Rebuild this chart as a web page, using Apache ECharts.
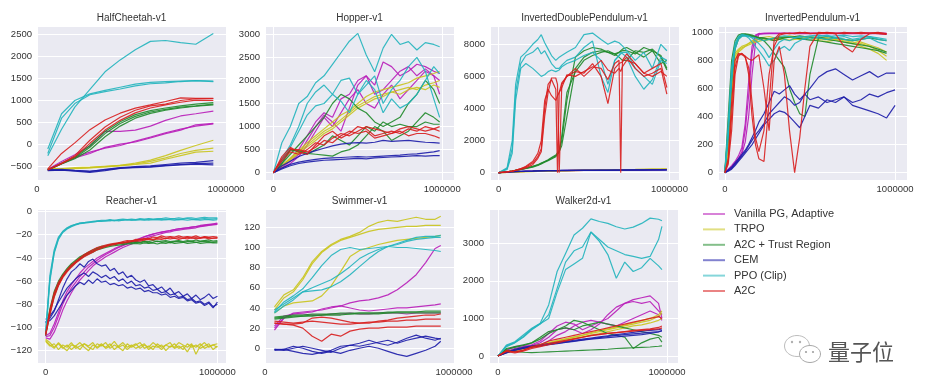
<!DOCTYPE html>
<html><head><meta charset="utf-8">
<script src="https://cdn.jsdelivr.net/npm/echarts@6/dist/echarts.min.js"></script>
<style>html,body{margin:0;padding:0;background:#fff}#c{width:925px;height:392px}</style>
</head><body><div id="c"></div>
<script>
const algoNames = ['Vanilla PG, Adaptive', 'TRPO', 'A2C + Trust Region', 'CEM', 'PPO (Clip)', 'A2C'];
const envNames = ['HalfCheetah-v1', 'Hopper-v1', 'InvertedDoublePendulum-v1', 'InvertedPendulum-v1', 'Reacher-v1', 'Swimmer-v1', 'Walker2d-v1'];
const xTickLabels = [0, 1000000];

// ---------- HalfCheetah ----------
const hcX = [57000, 130000, 200000, 280000, 360000, 440000, 520000, 600000, 680000, 760000, 840000, 933000];
const hcVPG = [
  [-560, -380, -230, -30, 300, 300, 330, 420, 550, 650, 700, 760],
  [-570, -420, -280, -170, -80, -20, 80, 170, 270, 350, 420, 470],
  [-575, -430, -300, -200, -60, 10, 60, 150, 250, 330, 450, 480]];
const hcTRPO = [
  [-560, -550, -540, -520, -500, -470, -420, -350, -250, -130, -20, 100],
  [-560, -550, -545, -525, -505, -480, -440, -380, -300, -200, -130, -80],
  [-550, -540, -520, -510, -490, -470, -450, -420, -330, -250, -170, -150]];
const hcA2CTR = [
  [-570, -430, -300, -60, 250, 480, 640, 740, 800, 850, 880, 920],
  [-580, -440, -320, -120, 180, 420, 600, 710, 780, 830, 870, 900],
  [-575, -420, -280, -20, 300, 520, 680, 770, 830, 880, 920, 950]];
const hcCEM = [
  [-580, -570, -590, -610, -560, -520, -500, -480, -450, -420, -400, -360],
  [-590, -580, -600, -630, -590, -540, -510, -500, -470, -450, -430, -420],
  [-570, -560, -580, -600, -570, -530, -520, -510, -480, -460, -440, -460]];
const hcPPO = [
  [-250, 350, 850, 1250, 1650, 1920, 2150, 2340, 2360, 2310, 2275, 2520],
  [-100, 700, 1000, 1150, 1230, 1300, 1370, 1410, 1430, 1440, 1450, 1440],
  [-200, 600, 930, 1130, 1200, 1260, 1330, 1380, 1400, 1430, 1450, 1430]];
const hcA2C = [
  [-550, -200, 40, 340, 560, 713, 826, 900, 977, 1060, 1050, 1050],
  [-570, -420, -250, 100, 400, 620, 780, 880, 920, 1000, 1040, 1040],
  [-575, -430, -280, 30, 330, 550, 720, 830, 900, 960, 1010, 1000]];

// ---------- Hopper ----------
const hopX = [0, 50000, 100000, 150000, 200000, 250000, 300000, 350000, 400000, 450000, 500000, 550000, 600000, 650000, 700000, 750000, 800000, 850000, 900000, 950000, 985000];
const hopVPG = [
  [0, 150, 300, 500, 800, 1100, 1300, 1200, 1600, 1700, 2000, 2100, 1900, 2400, 2300, 2100, 2200, 2350, 2300, 2200, 2150],
  [0, 120, 250, 400, 700, 1000, 1250, 1100, 900, 1400, 1900, 2100, 1700, 1800, 2000, 2200, 2300, 2100, 2250, 2100, 1700],
  [0, 100, 200, 350, 600, 900, 1200, 1000, 1300, 1600, 1800, 1500, 1400, 1700, 1900, 1600, 1800, 2000, 2200, 2100, 2000]];
const hopTRPO = [
  [0, 150, 300, 450, 600, 750, 900, 1000, 1150, 1300, 1450, 1550, 1650, 1700, 1750, 1800, 1850, 1800, 1900, 1950, 2000],
  [0, 140, 280, 420, 560, 700, 850, 950, 1100, 1250, 1400, 1500, 1600, 1650, 1750, 1700, 1800, 1850, 1800, 1900, 1850],
  [0, 160, 320, 480, 650, 800, 950, 1100, 1250, 1350, 1500, 1650, 1750, 1800, 1850, 1900, 1950, 2050, 2100, 2150, 2200]];
const hopA2CTR = [
  [0, 200, 400, 600, 800, 1000, 1200, 1500, 1700, 1600, 1400, 1300, 1100, 1000, 1100, 1200, 1500, 1700, 2000, 1800, 1500],
  [0, 250, 500, 450, 400, 500, 600, 800, 700, 600, 800, 1000, 900, 1100, 1000, 1050, 1000, 1000, 1100, 1050, 1050],
  [0, 200, 500, 480, 420, 400, 380, 360, 450, 500, 600, 800, 1000, 900, 700, 800, 900, 1100, 1300, 1200, 1100]];
const hopCEM = [
  [0, 150, 250, 350, 420, 480, 530, 580, 620, 640, 650, 640, 660, 700, 680, 690, 700, 680, 660, 650, 640],
  [0, 100, 180, 230, 260, 290, 310, 320, 330, 340, 350, 340, 350, 360, 370, 380, 400, 410, 430, 450, 480],
  [0, 80, 150, 200, 230, 250, 270, 280, 290, 300, 310, 300, 320, 330, 340, 350, 360, 370, 360, 370, 370]];
const hopPPO = [
  [0, 650, 1000, 1500, 1650, 1950, 2100, 2350, 2600, 2850, 3020, 2550, 2190, 2700, 3000, 2780, 2840, 2660, 2820, 2780, 2730],
  [0, 300, 600, 1000, 1500, 1750, 1900, 1700, 2000, 2050, 1700, 1900, 2100, 1500, 1800, 2000, 2300, 2500, 2200, 1600, 1200],
  [0, 250, 550, 900, 1250, 1450, 1500, 1700, 1550, 1300, 1700, 2000, 1800, 1300, 1600, 1400, 1500, 1700, 2000, 2300, 2150]];
const hopA2C = [
  [0, 350, 550, 450, 400, 600, 800, 900, 750, 850, 1000, 950, 800, 850, 900, 850, 950, 900, 1000, 950, 900],
  [0, 300, 500, 500, 450, 550, 700, 650, 800, 900, 850, 900, 750, 800, 850, 900, 800, 850, 850, 800, 750],
  [0, 250, 450, 400, 500, 650, 600, 750, 850, 800, 900, 1000, 950, 900, 850, 950, 1000, 950, 900, 950, 1000]];

// ---------- InvertedDoublePendulum ----------
const idpX = [0, 50000, 80000, 100000, 130000, 160000, 200000, 230000, 250000, 270000, 290000, 310000, 335000, 345000, 355000, 370000, 400000, 450000, 500000, 550000, 600000, 640000, 680000, 705000, 715000, 725000, 750000, 800000, 850000, 900000, 950000, 985000];
const idpVPG = [
  [0, 30, 50, 60, 70, 80, 90, 100, 105, 110, 115, 120, 125, 125, 130, 130, 135, 140, 145, 150, 155, 160, 165, 165, 170, 170, 175, 180, 185, 190, 195, 200],
  [0, 25, 45, 55, 65, 75, 85, 95, 100, 105, 110, 115, 120, 120, 125, 125, 130, 135, 140, 145, 150, 155, 160, 160, 165, 165, 170, 175, 180, 185, 190, 195],
  [0, 35, 55, 65, 75, 85, 95, 105, 110, 115, 120, 125, 130, 130, 135, 135, 140, 145, 150, 155, 160, 165, 170, 170, 175, 175, 180, 185, 190, 195, 200, 205]];
const idpTRPO = [
  [0, 20, 40, 50, 60, 70, 80, 90, 100, 105, 110, 115, 120, 120, 125, 125, 130, 140, 150, 160, 170, 175, 180, 185, 185, 190, 195, 200, 210, 215, 220, 225],
  [0, 15, 30, 40, 50, 60, 70, 80, 90, 95, 100, 105, 110, 110, 115, 115, 120, 130, 140, 150, 160, 165, 170, 175, 175, 180, 185, 190, 200, 205, 210, 215],
  [0, 25, 45, 55, 65, 75, 85, 95, 105, 110, 115, 120, 125, 125, 130, 130, 135, 145, 155, 165, 175, 180, 185, 190, 190, 195, 200, 205, 215, 220, 225, 230]];
const idpA2CTR = [
  [0, 50, 100, 150, 200, 280, 400, 500, 600, 700, 800, 950, 1100, 1200, 1400, 2000, 4500, 7200, 7600, 7800, 7700, 7500, 7400, 7500, 7500, 7600, 7600, 7400, 7800, 7600, 7300, 6500],
  [0, 50, 100, 150, 200, 270, 380, 480, 580, 680, 780, 900, 1050, 1150, 1300, 1700, 3500, 6500, 7200, 7500, 7600, 7500, 7300, 7500, 7600, 7700, 7800, 7500, 7200, 7600, 6800, 7000],
  [0, 50, 100, 150, 200, 260, 350, 450, 550, 650, 750, 850, 1000, 1100, 1300, 2300, 5000, 6300, 7000, 7300, 7500, 7600, 7400, 7200, 7100, 7000, 7000, 7600, 7500, 7700, 7200, 6400]];
const idpCEM = [
  [0, 40, 60, 70, 80, 90, 100, 110, 115, 120, 125, 130, 130, 135, 135, 140, 140, 145, 150, 150, 155, 155, 160, 160, 160, 165, 165, 170, 170, 175, 175, 180],
  [0, 35, 55, 65, 75, 85, 95, 105, 110, 115, 120, 125, 125, 130, 130, 135, 135, 140, 145, 145, 150, 150, 155, 155, 155, 160, 160, 165, 165, 170, 170, 175],
  [0, 45, 65, 75, 85, 95, 105, 115, 120, 125, 130, 135, 135, 140, 140, 145, 145, 150, 155, 155, 160, 160, 165, 165, 165, 170, 170, 175, 175, 180, 180, 185]];
const idpPPO = [
  [0, 300, 2000, 5500, 7200, 7500, 8000, 8300, 8600, 8100, 7700, 7300, 7000, 7100, 7200, 7300, 7500, 7800, 8600, 8700, 8300, 8000, 8200, 8100, 8000, 7900, 7600, 7000, 7500, 6500, 8000, 7600],
  [0, 250, 1500, 5000, 6800, 7300, 7500, 7800, 7400, 7600, 7200, 6800, 6500, 6400, 6500, 6700, 7000, 7200, 7800, 8200, 6000, 5000, 7000, 7300, 7400, 7500, 7500, 6500, 6000, 5500, 7000, 6800],
  [0, 200, 1200, 4500, 6500, 6800, 6500, 6200, 6000, 6100, 6300, 6400, 6300, 6300, 6400, 6600, 6800, 7000, 7300, 7500, 7000, 5500, 7000, 7300, 7500, 7400, 7200, 6000, 5200, 5800, 7200, 7000]];
const idpA2C = [
  [0, 50, 100, 150, 250, 350, 600, 1000, 1500, 4000, 5500, 5800, 5200, 0, 5000, 5600, 6000, 6300, 6200, 6800, 6000, 4300, 6500, 6800, 6700, 6900, 7200, 6500, 6000, 6200, 6500, 4900],
  [0, 50, 100, 150, 200, 300, 500, 900, 1300, 3500, 5000, 5900, 5900, 5500, 0, 5500, 6000, 6500, 6000, 6500, 7000, 6400, 6200, 6500, 6300, 6600, 7000, 6800, 6200, 6000, 6300, 6000],
  [0, 50, 100, 150, 250, 400, 700, 1200, 2000, 4500, 5200, 4800, 4500, 4800, 5000, 5300, 6100, 6000, 6300, 6600, 6500, 5800, 6800, 7000, 0, 7000, 7400, 6800, 6200, 6500, 6800, 5300]];

// ---------- InvertedPendulum ----------
const ipX = [0, 20000, 40000, 60000, 80000, 100000, 120000, 140000, 160000, 180000, 200000, 230000, 260000, 290000, 320000, 350000, 380000, 410000, 440000, 470000, 500000, 550000, 600000, 650000, 700000, 750000, 800000, 850000, 900000, 950000, 1000000];
const ipVPG = [
  [0, 20, 40, 70, 100, 150, 300, 550, 850, 970, 990, 995, 995, 995, 995, 995, 995, 995, 995, 995, 995, 995, 995, 995, 995, 995, 995, 995, 995, 995, null],
  [0, 15, 35, 60, 90, 130, 220, 400, 700, 920, 985, 990, 990, 990, 990, 990, 990, 990, 990, 990, 990, 990, 990, 990, 990, 990, 990, 990, 990, 985, null],
  [0, 25, 50, 80, 120, 180, 350, 650, 900, 980, 992, 990, 992, 993, 992, 993, 992, 993, 992, 993, 992, 993, 992, 993, 992, 993, 992, 993, 992, 990, null]];
const ipTRPO = [
  [0, 150, 600, 850, 880, 900, 910, 920, 930, 940, 950, 940, 950, 960, 955, 950, 945, 950, 960, 970, 960, 950, 955, 950, 940, 930, 920, 900, 870, 830, null],
  [0, 120, 550, 830, 870, 890, 900, 910, 920, 930, 935, 945, 950, 945, 950, 960, 965, 955, 950, 960, 950, 940, 935, 945, 930, 920, 900, 880, 850, 800, null],
  [0, 100, 500, 800, 860, 880, 900, 920, 940, 950, 960, 965, 970, 960, 965, 970, 975, 970, 965, 960, 970, 965, 960, 955, 950, 945, 930, 910, 890, 860, null]];
const ipA2CTR = [
  [0, 400, 800, 940, 980, 990, 985, 980, 975, 970, 965, 960, 950, 940, 950, 960, 965, 970, 975, 970, 965, 960, 950, 940, 930, 920, 910, 900, 880, 860, null],
  [0, 300, 700, 900, 960, 985, 990, 985, 980, 970, 960, 940, 900, 850, 800, 750, 600, 500, 420, 400, 700, 960, 970, 960, 950, 940, 950, 960, 950, 940, null],
  [0, 250, 650, 880, 950, 975, 980, 975, 970, 965, 960, 955, 950, 955, 960, 965, 970, 960, 955, 950, 945, 940, 930, 920, 910, 900, 890, 880, 870, 850, null]];
const ipCEM = [
  [0, 20, 40, 70, 100, 130, 160, 200, 250, 300, 360, 420, 500, 580, 560, 590, 620, 560, 520, 560, 600, 680, 720, 740, 700, 660, 690, 720, 680, 710, 710],
  [0, 15, 30, 60, 90, 120, 150, 190, 230, 270, 300, 350, 420, 460, 500, 540, 520, 480, 500, 560, 520, 540, 500, 520, 540, 500, 520, 560, 540, 570, 590],
  [0, 10, 25, 50, 80, 110, 140, 170, 200, 240, 280, 340, 380, 420, 440, 430, 400, 360, 320, 400, 480, 460, 520, 500, 540, 480, 460, 440, 420, 390, 480]];
const ipPPO = [
  [0, 350, 750, 920, 970, 985, 980, 975, 960, 940, 920, 880, 820, 880, 930, 950, 940, 960, 970, 950, 970, 960, 950, 960, 970, 950, 960, 970, 950, 940, null],
  [0, 300, 700, 900, 960, 980, 975, 960, 930, 900, 870, 820, 760, 800, 880, 900, 870, 920, 940, 960, 950, 970, 980, 960, 950, 940, 950, 960, 930, 910, null],
  [0, 250, 650, 880, 950, 970, 975, 970, 965, 960, 950, 940, 950, 960, 970, 975, 970, 960, 965, 970, 975, 980, 970, 975, 980, 970, 975, 970, 960, 950, null]];
const ipA2C = [
  [0, 100, 500, 800, 850, 840, 830, 700, 400, 200, 100, 80, 500, 950, 990, 995, 990, 995, 1000, 995, 990, 995, 1000, 995, 990, 995, 1000, 995, 990, 985, null],
  [0, 80, 400, 750, 840, 850, 830, 810, 800, 820, 840, 600, 300, 800, 900, 700, 300, 0, 250, 600, 900, 1000, 995, 990, 1000, 995, 990, 995, 1000, 990, null],
  [0, 60, 300, 700, 830, 850, 820, 750, 500, 250, 150, 300, 700, 900, 980, 990, 995, 990, 995, 1000, 995, 990, 995, 990, 900, 860, 950, 990, 995, 990, null]];

// ---------- Reacher ----------
const reaX = [0, 25000, 50000, 75000, 100000, 125000, 150000, 175000, 200000, 225000, 250000, 275000, 300000, 325000, 350000, 375000, 400000, 425000, 450000, 475000, 500000, 525000, 550000, 575000, 600000, 625000, 650000, 675000, 700000, 725000, 750000, 775000, 800000, 825000, 850000, 875000, 900000, 925000, 950000, 975000, 1000000];
const reaVPG = [
  [-108, -107, -100, -90, -80, -72, -66, -61, -56, -52, -48, -45, -42, -39.5, -37, -35, -33, -31, -29.5, -28, -26.5, -25, -23.5, -22, -20.5, -19.5, -18.5, -18, -17, -16.5, -15.5, -15, -14.5, -14, -13.5, -13, -12, -11.5, -11, -10.5, -10],
  [-109, -110, -104, -95, -85, -77, -70, -64, -59, -55, -51, -47, -44, -41.5, -39, -37, -35, -33, -31, -29.5, -28, -26.5, -25, -23.5, -22, -21, -20, -19, -18, -17.5, -16.5, -16, -15.5, -15, -14.5, -14, -13, -12.5, -12, -11.5, -11],
  [-107, -105, -97, -87, -77, -69, -63, -58, -53, -49, -46, -43, -40, -38, -36, -34, -32, -30.5, -29, -27.5, -26, -24.5, -23, -21.5, -20.5, -19.5, -18.5, -17.5, -17, -16.5, -15.5, -15, -14.5, -14, -13.5, -13, -12.5, -12, -11.5, -11, -10.5]];
const reaTRPO = [
  [-110, -113, -117, -114, -118, -115, -119, -116, -113, -117, -120, -115, -117, -114, -118, -116, -112, -117, -115, -119, -116, -114, -118, -115, -117, -113, -116, -119, -115, -117, -114, -118, -116, -121, -115, -117, -114, -118, -116, -115, -117],
  [-112, -116, -114, -119, -115, -117, -113, -118, -116, -114, -117, -119, -114, -116, -113, -118, -115, -117, -120, -114, -117, -115, -113, -118, -116, -119, -114, -117, -115, -113, -118, -116, -119, -114, -117, -115, -118, -116, -114, -119, -116],
  [-111, -115, -118, -113, -117, -120, -115, -116, -119, -114, -116, -113, -118, -115, -117, -114, -119, -116, -113, -117, -115, -118, -116, -114, -119, -116, -117, -115, -120, -116, -117, -113, -115, -117, -114, -123, -116, -113, -117, -115, -114]];
const reaA2CTR = [
  [-106, -86, -71, -62, -55, -50, -46, -43, -40, -37.5, -35.5, -34, -32, -31, -30, -29, -28.5, -28, -27.5, -27, -27.5, -26.5, -27, -26, -27, -26.5, -25.5, -26.5, -26, -27, -26, -25.5, -26.5, -26, -25.5, -26.5, -26, -25.5, -26, -26.5, -26],
  [-107, -88, -73, -63, -56, -51, -47, -44, -41, -38.5, -36.5, -35, -33, -32, -31, -30, -29.5, -29, -28.5, -28, -28, -27.5, -28, -27, -27.5, -27, -28, -27, -27.5, -26.5, -27.5, -27, -26.5, -27.5, -27, -26.5, -27.5, -27, -26.5, -27, -27],
  [-105, -84, -69, -60, -54, -49, -45, -42, -39, -37, -35, -33, -31.5, -30, -29.5, -28.5, -28, -27.5, -27, -26.5, -26.5, -26, -26.5, -25.5, -26, -25, -26, -25.5, -25, -26, -25.5, -25, -26, -25, -25.5, -24.5, -25.5, -25, -24.5, -25.5, -25]];
const reaCEM = [
  [-95, -92, -86, -76, -66, -58, -52, -49, -45, -48, -43, -41, -45, -47, -46, -51, -49, -54, -52, -57, -55, -59, -61, -59, -64, -63, -67, -65, -69, -66, -71, -69, -73, -71, -75, -72, -76, -74, -71, -75, -73],
  [-93, -90, -85, -78, -72, -66, -62, -58, -55, -53, -56, -52, -54, -57, -55, -58, -56, -60, -58, -62, -60, -64, -63, -66, -65, -68, -67, -70, -69, -72, -71, -74, -73, -76, -75, -78, -77, -80, -78, -82, -80],
  [-96, -94, -90, -84, -78, -72, -68, -64, -61, -63, -59, -62, -58, -61, -60, -63, -62, -64, -63, -66, -65, -67, -66, -69, -68, -70, -70, -72, -71, -74, -73, -75, -74, -77, -76, -79, -78, -81, -79, -83, -78]];
const reaPPO = [
  [-106, -55, -33, -22, -17, -14, -12, -11, -10, -9.5, -9, -8.5, -8, -7.5, -7.5, -7, -7.5, -7, -6.5, -7, -6.5, -7, -6, -6.5, -6, -6.5, -6, -6, -5.5, -6, -6, -5.5, -6, -5.5, -5.5, -6, -5.5, -5, -5.5, -5.5, -5.5],
  [-107, -60, -36, -24, -18, -15, -13, -11.5, -10.5, -10, -9.5, -9, -8.5, -8.5, -8, -8, -7.5, -8, -7.5, -7, -7.5, -7, -7, -7.5, -6.5, -7, -7, -6.5, -7, -6.5, -6.5, -7, -6.5, -6, -6.5, -7, -6.5, -6, -6.5, -6.5, -6],
  [-105, -58, -35, -23, -17.5, -14.5, -12.5, -11, -10, -9.5, -9, -9, -8.5, -8, -8, -7.5, -8, -7.5, -7.5, -7, -7.5, -7.5, -7, -7, -7.5, -7, -7, -7.5, -7, -7, -7.5, -7, -7, -7.5, -7, -7, -7.5, -7, -7, -7.5, -7]];
const reaA2C = [
  [-106, -85, -70, -61, -55, -50, -46, -43, -40, -37, -35, -33, -31, -30, -29, -28, -27.5, -27, -26, -25, -25.5, -24, -24, -23, -23.5, -22, -22.5, -21, -22, -21.5, -22, -21, -22, -21.5, -22, -21, -22.5, -21.5, -22, -21.5, -22],
  [-106, -87, -72, -63, -56, -51, -47, -44, -41, -38, -36, -34, -32.5, -31, -30, -29, -28, -27, -27, -26, -25, -25.5, -24, -24.5, -23, -24, -23, -22.5, -23.5, -22, -23, -22.5, -23, -22, -23, -22.5, -23, -22, -22.5, -23, -22.5],
  [-107, -89, -74, -64, -57, -52, -48, -44.5, -41.5, -39, -37, -35, -33, -31.5, -30, -29, -28.5, -27.5, -27, -26.5, -26, -25, -25.5, -24.5, -24, -24.5, -23.5, -24, -23, -23.5, -23, -24, -23, -23.5, -22.5, -23.5, -23, -22.5, -23.5, -23, -23]];

// ---------- Swimmer ----------
const swiX = [50000, 100000, 150000, 200000, 250000, 300000, 350000, 400000, 450000, 500000, 550000, 600000, 650000, 700000, 750000, 800000, 850000, 900000, 930000];
const swiVPG = [
  [18, 30, 35, 36, 37, 38, 40, 42, 45, 47, 48, 50, 53, 58, 65, 73, 85, 99, 102],
  [20, 30, 34, 35, 36, 39, 41, 42, 40, 38, 37, 38, 39, 40, 40, 41, 42, 43, 44],
  [22, 32, 34, 34, 33, 33, 34, 34, 35, 34, 34, 35, 35, 35, 34, 35, 35, 35, 35]];
const swiTRPO = [
  [41, 53, 58, 70, 86, 96, 103, 108, 111, 115, 121, 125, 127, 126, 128, 130, 128, 128, 131],
  [38, 50, 56, 68, 84, 95, 102, 107, 110, 113, 116, 118, 119, 120, 121, 121, 122, 122, 122],
  [35, 42, 45, 46, 47, 52, 62, 76, 91, 97, 100, 103, 105, 107, 108, 109, 110, 111, 112]];
const swiA2CTR = [
  [30, 31, 32, 32, 33, 33, 34, 34, 34, 35, 35, 35, 35, 36, 36, 36, 36, 36, 36],
  [29, 30, 31, 32, 32, 33, 33, 33, 34, 34, 34, 34, 35, 35, 35, 35, 35, 35, 35],
  [31, 32, 33, 33, 34, 34, 34, 35, 35, 35, 35, 35, 36, 36, 36, 36, 37, 37, 37]];
const swiCEM = [
  [-1, -2, 0, 2, 0, -2, -4, 0, 3, 5, 8, 5, 3, 6, 10, 13, 10, 8, 10],
  [-1, -1, 2, 0, -3, -5, -3, -5, -2, 0, 2, 0, -3, -6, -8, -5, -2, 2, 7],
  [-2, -1, -3, -5, -6, -4, -2, 2, 3, 2, 4, 6, 8, 5, 8, 10, 12, 10, 9]];
const swiPPO = [
  [36, 46, 52, 59, 70, 82, 92, 98, 100, 98, 99, 100, 101, 100, 100, 99, 98, 97, 96],
  [38, 44, 50, 56, 57, 58, 61, 66, 73, 81, 89, 96, 101, 104, 107, 110, 111, 111, 112],
  [35, 42, 48, 56, 60, 64, 68, 74, 81, 89, 94, 98, 101, 103, 106, 108, 109, 110, 110]];
const swiA2C = [
  [25, 24, 23, 20, 12, 7, 14, 12, 17, 19, 20, 20, 21, 21, 21, 22, 22, 22, 22],
  [27, 26, 25, 26, 27, 26, 25, 24, 24, 25, 26, 26, 27, 27, 28, 28, 29, 29, 29],
  [25, 24, 24, 25, 30, 31, 30, 28, 26, 25, 25, 27, 28, 30, 31, 32, 33, 33, 34]];

// ---------- Walker2d ----------
const walX = [0, 50000, 100000, 150000, 200000, 250000, 300000, 350000, 400000, 450000, 500000, 550000, 600000, 650000, 700000, 750000, 800000, 850000, 900000, 950000, 970000];
const walVPG = [
  [0, 150, 250, 280, 300, 400, 600, 800, 900, 850, 700, 800, 900, 1000, 1200, 1400, 1500, 1550, 1600, 1400, 1000],
  [0, 120, 200, 250, 280, 350, 500, 700, 750, 700, 600, 700, 850, 1100, 1300, 1400, 1450, 1400, 1450, 1200, 1100],
  [0, 100, 180, 220, 260, 300, 400, 550, 650, 800, 900, 950, 900, 850, 800, 900, 1000, 1100, 1200, 1100, 950]];
const walTRPO = [
  [0, 100, 150, 200, 250, 300, 350, 400, 450, 500, 550, 600, 650, 700, 750, 800, 850, 900, 950, 1050, 1150],
  [0, 90, 140, 190, 230, 270, 320, 370, 420, 470, 510, 560, 600, 650, 700, 750, 800, 830, 880, 950, 1000],
  [0, 110, 170, 210, 260, 310, 360, 410, 460, 510, 560, 620, 680, 720, 770, 820, 880, 940, 1000, 1100, 1200]];
const walA2CTR = [
  [0, 150, 120, 100, 90, 100, 110, 120, 130, 140, 150, 160, 170, 180, 200, 210, 220, 230, 240, 260, 270],
  [0, 200, 250, 300, 350, 450, 600, 700, 800, 950, 900, 800, 700, 600, 550, 500, 200, 350, 450, 500, 370],
  [0, 180, 230, 280, 350, 500, 650, 700, 750, 700, 800, 850, 900, 850, 800, 750, 700, 650, 600, 550, 500]];
const walCEM = [
  [0, 100, 180, 230, 270, 300, 330, 360, 390, 420, 450, 480, 510, 540, 570, 600, 630, 660, 680, 700, 720],
  [0, 90, 160, 210, 250, 280, 310, 340, 370, 400, 430, 460, 490, 520, 550, 570, 590, 610, 630, 650, 670],
  [0, 80, 150, 200, 240, 270, 300, 330, 360, 390, 420, 450, 470, 490, 510, 530, 550, 570, 600, 640, 680]];
const walPPO = [
  [0, 290, 380, 560, 740, 870, 1360, 2250, 2730, 3220, 3400, 3650, 3580, 3530, 3440, 3380, 3430, 3530, 3670, 3640, 3600],
  [0, 250, 350, 500, 700, 850, 1100, 1800, 2500, 2800, 2900, 3300, 3100, 2900, 2800, 2700, 2650, 2600, 2650, 3100, 3450],
  [0, 270, 360, 520, 720, 860, 1000, 1700, 2300, 2450, 2600, 3300, 3050, 2700, 2070, 2500, 2250, 2350, 2600, 2400, 2300]];
const walA2C = [
  [0, 150, 100, 150, 250, 300, 400, 450, 500, 550, 600, 650, 700, 750, 800, 850, 900, 950, 1000, 1050, 1000],
  [0, 120, 80, 130, 200, 250, 300, 350, 400, 450, 500, 550, 580, 600, 620, 640, 660, 680, 700, 720, 750],
  [0, 130, 110, 160, 230, 280, 330, 380, 420, 460, 500, 540, 570, 600, 620, 650, 680, 700, 720, 760, 800]];

// ---------- assembly ----------
const panelData = [
  {x: hcX,  algos: [hcVPG, hcTRPO, hcA2CTR, hcCEM, hcPPO, hcA2C]},
  {x: hopX, algos: [hopVPG, hopTRPO, hopA2CTR, hopCEM, hopPPO, hopA2C]},
  {x: idpX, algos: [idpVPG, idpTRPO, idpA2CTR, idpCEM, idpPPO, idpA2C]},
  {x: ipX,  algos: [ipVPG, ipTRPO, ipA2CTR, ipCEM, ipPPO, ipA2C]},
  {x: reaX, algos: [reaVPG, reaTRPO, reaA2CTR, reaCEM, reaPPO, reaA2C]},
  {x: swiX, algos: [swiVPG, swiTRPO, swiA2CTR, swiCEM, swiPPO, swiA2C]},
  {x: walX, algos: [walVPG, walTRPO, walA2CTR, walCEM, walPPO, walA2C]}
];

// layout & style (not data)
const W = 189, H = 154;
const layout = [
  {left: 37,  top: 26,  xMin: 0,      xMax: 1000000, yMin: -801,   yMax: 2688,  yStep: 500},
  {left: 265, top: 26,  xMin: -50000, xMax: 1070000, yMin: -158,   yMax: 3180,  yStep: 500},
  {left: 490, top: 26,  xMin: -50000, xMax: 1056000, yMin: -455,   yMax: 9140,  yStep: 2000},
  {left: 718, top: 26,  xMin: -40000, xMax: 1070000, yMin: -52,    yMax: 1045,  yStep: 200},
  {left: 37,  top: 209, xMin: -50000, xMax: 1050000, yMin: -130.6, yMax: 2.2,   yStep: 20},
  {left: 265, top: 209, xMin: 0,      xMax: 1000000, yMin: -14.6,  yMax: 138.2, yStep: 20},
  {left: 489, top: 209, xMin: -53000, xMax: 1065000, yMin: -186,   yMax: 3913,  yStep: 1000}
];
const colors = ['#b81cb8', '#c9c41c', '#1f8a2a', '#1c1ca8', '#21b4bc', '#d81e1e'];
const FONT = '"Liberation Sans", Arial, Helvetica, sans-serif';
const TXT = '#333333';

function fmt(v) { return v < 0 ? '\u2212' + Math.abs(v) : String(v); }
function isTick(v, step) { const r = v / step; return Math.abs(r - Math.round(r)) < 1e-6; }

const grids = [], xAxes = [], yAxes = [], series = [], graphics = [];
layout.forEach((L, i) => {
  grids.push({left: L.left, top: L.top, width: W, height: H, show: true,
    backgroundColor: '#eaeaf2', borderWidth: 0, containLabel: false});
  const xStep = xTickLabels[1] - xTickLabels[0];
  xAxes.push({type: 'value', gridIndex: i, min: L.xMin, max: L.xMax,
    minInterval: xStep, maxInterval: xStep, splitNumber: 1,
    axisLine: {show: false}, axisTick: {show: false},
    splitLine: {show: true, lineStyle: {color: '#ffffff', width: 1}},
    axisLabel: {interval: 0, margin: 4, fontSize: 9.5, color: TXT, fontFamily: FONT,
      formatter: v => isTick(v, xStep) && xTickLabels.some(t => Math.abs(t - v) < 1) ? fmt(Math.round(v)) : ''}});
  yAxes.push({type: 'value', gridIndex: i, min: L.yMin, max: L.yMax,
    minInterval: L.yStep, maxInterval: L.yStep, splitNumber: 5,
    axisLine: {show: false}, axisTick: {show: false},
    splitLine: {show: true, lineStyle: {color: '#ffffff', width: 1}},
    axisLabel: {interval: 0, margin: 5, fontSize: 9.5, color: TXT, fontFamily: FONT,
      formatter: v => isTick(v, L.yStep) ? fmt(Math.round(v)) : ''}});
  const P = panelData[i];
  P.algos.forEach((seeds, a) => {
    seeds.forEach(ys => {
      series.push({type: 'line', name: algoNames[a], xAxisIndex: i, yAxisIndex: i,
        data: P.x.map((x, k) => [x, ys[k]]), symbol: 'none', showSymbol: false,
        connectNulls: false, silent: true, animation: false,
        lineStyle: {color: colors[a], width: 1.2, opacity: 0.9},
        itemStyle: {color: colors[a]}});
    });
  });
  graphics.push({type: 'text', x: L.left + W / 2, y: L.top - 8,
    style: {text: envNames[i], fill: TXT, font: '10px ' + FONT,
      align: 'center', verticalAlign: 'middle', textAlign: 'center', textVerticalAlign: 'middle'}});
});

// watermark
graphics.push(
  {type: 'ellipse', shape: {cx: 797, cy: 346, rx: 12.5, ry: 10.5}, style: {fill: 'none', stroke: '#bdbdbd', lineWidth: 1}},
  {type: 'ellipse', shape: {cx: 810, cy: 354, rx: 10.5, ry: 8.5}, style: {fill: '#ffffff', stroke: '#a8a8a8', lineWidth: 1}},
  {type: 'circle', shape: {cx: 792, cy: 342, r: 1.2}, style: {fill: '#b0b0b0'}},
  {type: 'circle', shape: {cx: 800, cy: 342, r: 1.2}, style: {fill: '#b0b0b0'}},
  {type: 'circle', shape: {cx: 806, cy: 352, r: 1.1}, style: {fill: '#a0a0a0'}},
  {type: 'circle', shape: {cx: 813, cy: 352, r: 1.1}, style: {fill: '#a0a0a0'}},
  {type: 'text', x: 828, y: 352, style: {text: '量子位', fill: '#555555',
    font: '22px "Noto Sans CJK SC", sans-serif', verticalAlign: 'middle', textVerticalAlign: 'middle'}}
);

const chart = echarts.init(document.getElementById('c'), null, {renderer: 'canvas'});
chart.setOption({
  backgroundColor: '#ffffff',
  animation: false,
  grid: grids, xAxis: xAxes, yAxis: yAxes, series: series,
  legend: {orient: 'vertical', left: 703, top: 206.5, padding: 0,
    itemWidth: 22, itemHeight: 2, itemGap: 0.4, icon: 'rect', selectedMode: false,
    textStyle: {fontSize: 11, color: TXT, fontFamily: FONT, lineHeight: 15, padding: [0, 0, 0, 4]},
    data: algoNames.map((n, a) => ({name: n, icon: 'rect', itemStyle: {color: colors[a], opacity: 0.55}}))},
  graphic: graphics
});
</script></body></html>
